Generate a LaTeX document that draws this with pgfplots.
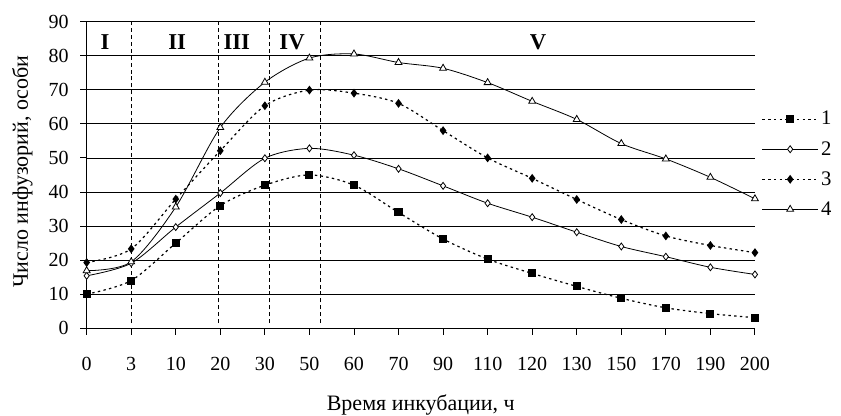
\documentclass[border=0pt]{standalone}
\usepackage{fontspec}
\setmainfont{Liberation Serif}
\usepackage{pgfplots}
\pgfplotsset{compat=1.18}

% counts at each incubation time (categories plotted at 0,1,...,15)
\begin{document}
\begin{tikzpicture}
\path[use as bounding box] (0,0) rectangle (630.75pt,-311.25pt);
\begin{axis}[
  at={(65.0pt,-246.2pt)}, anchor=south west,
  scale only axis, width=501.2pt, height=230pt,
  xmin=0, xmax=15, ymin=0, ymax=90,
  axis lines=left, axis line style={-, line width=0.7pt},
  xtick={0,...,15},
  xticklabels={0,3,10,20,30,50,60,70,90,110,120,130,150,170,190,200},
  ytick={0,10,...,90},
  tick align=outside, major tick length=5pt,
  tick style={black, line width=0.7pt},
  ymajorgrids, major grid style={black, line width=0.6pt},
  /pgf/number format/assume math mode=true,
  tick label style={font=\fontsize{15}{18}\selectfont},
  xticklabel style={yshift=-13.5pt},
  yticklabel style={xshift=-5pt},
  xlabel={Время инкубации, ч},
  ylabel={Число инфузорий, особи},
  label style={font=\fontsize{16.5}{19}\selectfont},
  xlabel style={at={(axis description cs:0.5,-0.2675)}, anchor=base},
  ylabel style={at={(axis description cs:-0.0878,0.511)}, anchor=base, rotate=0},
  clip=false,
  legend cell align=left,
  legend style={at={(axis description cs:1.01,0.717)}, anchor=north west,
    draw=none, fill=none, font=\fontsize{15.5}{18}\selectfont,
    row sep=6.8pt, inner sep=0pt,
    nodes={inner sep=2pt}},
  legend image code/.code={%
    \draw[mark repeat=2,mark phase=2] plot coordinates {(0cm,0cm)(0.73cm,0cm)(1.46cm,0cm)};},
  every axis plot/.append style={black, smooth, tension=0.5},
]
% period boundaries
\draw[black, line width=0.6pt, dash pattern=on 3pt off 2.2pt] (axis cs:1,1.5) -- (axis cs:1,90);
\draw[black, line width=0.6pt, dash pattern=on 3pt off 2.2pt] (axis cs:2.95,1.5) -- (axis cs:2.95,90);
\draw[black, line width=0.6pt, dash pattern=on 3pt off 2.2pt] (axis cs:4.1,1.5) -- (axis cs:4.1,90);
\draw[black, line width=0.6pt, dash pattern=on 3pt off 2.2pt] (axis cs:5.25,1.5) -- (axis cs:5.25,90);
\node[font=\fontsize{17}{20}\selectfont\bfseries] at (axis cs:0.41,84) {I};
\node[font=\fontsize{17}{20}\selectfont\bfseries] at (axis cs:2.03,84) {II};
\node[font=\fontsize{17}{20}\selectfont\bfseries] at (axis cs:3.37,84) {III};
\node[font=\fontsize{17}{20}\selectfont\bfseries] at (axis cs:4.61,84) {IV};
\node[font=\fontsize{17}{20}\selectfont\bfseries] at (axis cs:10.13,84) {V};

\addplot[line width=0.9pt, dash pattern=on 1.8pt off 2.5pt,
  mark=square*, mark size=2.6pt, mark options={solid, fill=black}]
  coordinates {(0,10) (1,14) (2,25) (3,36) (4,42) (5,45) (6,42) (7,34)
    (8,26.2) (9,20.3) (10,16.1) (11,12.3) (12,8.8) (13,6.0) (14,4.3) (15,3.1)};
\addlegendentry{1}
\addplot[line width=0.6pt,
  mark=diamond*, mark size=2.6pt, mark options={solid, fill=white}]
  coordinates {(0,15.4) (1,19.1) (2,29.7) (3,39.7) (4,49.9) (5,52.8) (6,50.8) (7,46.8)
    (8,41.8) (9,36.7) (10,32.6) (11,28.2) (12,24) (13,21) (14,17.9) (15,15.8)};
\addlegendentry{2}
\addplot[line width=0.9pt, dash pattern=on 1.8pt off 2.5pt,
  mark=diamond*, mark size=2.6pt, mark options={solid, fill=black}]
  coordinates {(0,19.3) (1,23.3) (2,37.9) (3,52.1) (4,65.3) (5,69.9) (6,69) (7,66)
    (8,58) (9,50) (10,44) (11,37.8) (12,31.9) (13,27.1) (14,24.3) (15,22.2)};
\addlegendentry{3}
\addplot[line width=0.6pt,
  mark=triangle*, mark size=3pt, mark options={solid, fill=white}]
  coordinates {(0,16.9) (1,19.5) (2,35.6) (3,58.9) (4,72.2) (5,79.3) (6,80.5) (7,78)
    (8,76.3) (9,72.1) (10,66.6) (11,61.3) (12,54.2) (13,49.7) (14,44.3) (15,38)};
\addlegendentry{4}
\end{axis}
\end{tikzpicture}
\end{document}
